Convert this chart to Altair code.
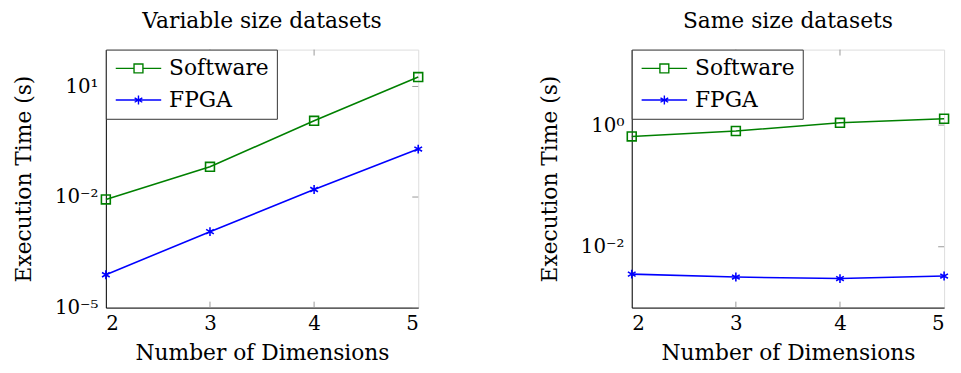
import altair as alt
import pandas as pd

dims = [2, 3, 4, 5]
series_names = ["Software", "FPGA"]

# Variable size datasets
var_software = [0.0086, 0.066, 1.17, 18.0]
var_fpga = [7.8e-5, 1.15e-3, 0.016, 0.20]

# Same size datasets
same_software = [0.65, 0.80, 1.09, 1.27]
same_fpga = [0.00355, 0.00318, 0.0030, 0.0033]

titles = ["Variable size datasets", "Same size datasets"]
y_domains = [[1e-5, 1e2], [1e-3, 17.4]]
y_ticks = [[1e-5, 1e-2, 1e1], [1e-2, 1.0]]

FONT = "DejaVu Serif"
COLORS = {"Software": "#008000", "FPGA": "#0000ff"}

MARKS = {"Software": "M-1,-1H1V1H-1Z",
         "FPGA": "M0,-1V1M-0.866,-0.5L0.866,0.5M-0.866,0.5L0.866,-0.5"}
LEG = {"Software": "M-2.3,0H-0.45M0.45,0H2.3M-0.45,-0.45H0.45V0.45H-0.45Z",
       "FPGA": "M-2.3,0H2.3M0,-0.45V0.45M-0.39,-0.225L0.39,0.225M-0.39,0.225L0.39,-0.225"}

W, H = 316, 261

label_expr = ("datum.value == 10 ? '10¹' : datum.value == 0.01 ? '10⁻²' : "
              "datum.value == 0.00001 ? '10⁻⁵' : datum.value == 1 ? '10⁰' : datum.label")


def panel(sw, fp, title, ydom, yticks):
    rows = []
    for d, v in zip(dims, sw):
        rows.append({"dim": d, "time": v, "series": "Software"})
    for d, v in zip(dims, fp):
        rows.append({"dim": d, "time": v, "series": "FPGA"})
    df = pd.DataFrame(rows)

    xscale = alt.Scale(domain=[2, 5], nice=False, zero=False)
    yscale = alt.Scale(type="log", domain=ydom, nice=False)
    x = alt.X("dim:Q", scale=xscale,
              axis=alt.Axis(values=dims, format="d", title="Number of Dimensions",
                            grid=False, ticks=False, labelFontSize=20, titleFontSize=22,
                            labelPadding=6, titlePadding=10, domainColor="black",
                            labelColor="black", titleColor="black",
                            titleFontWeight="normal", labelFont=FONT, titleFont=FONT))
    y = alt.Y("time:Q", scale=yscale,
              axis=alt.Axis(values=yticks, labelExpr=label_expr, title="Execution Time (s)",
                            grid=False, ticks=False, labelFontSize=20, titleFontSize=22,
                            labelPadding=8, titlePadding=19, domainColor="black",
                            labelColor="black", titleColor="black",
                            titleFontWeight="normal", labelFont=FONT, titleFont=FONT))

    base = alt.Chart(df)
    layers = []

    tick_df = pd.DataFrame({"dim": [3, 4]})
    layers.append(alt.Chart(tick_df).mark_rule(color="#999", strokeWidth=1).encode(
        x=alt.X("dim:Q", scale=xscale), y=alt.value(H - 6), y2=alt.value(H)))
    layers.append(alt.Chart(tick_df).mark_rule(color="#999", strokeWidth=1).encode(
        x=alt.X("dim:Q", scale=xscale), y=alt.value(0), y2=alt.value(6)))
    ytick_df = pd.DataFrame({"time": yticks})
    layers.append(alt.Chart(ytick_df).mark_rule(color="#999", strokeWidth=1).encode(
        y=alt.Y("time:Q", scale=yscale),
        x=alt.value(W - 6), x2=alt.value(W)))

    for s in series_names:
        sub = base.transform_filter(alt.datum.series == s)
        layers.append(sub.mark_line(strokeWidth=1.6, color=COLORS[s]).encode(x=x, y=y))
        layers.append(sub.mark_point(filled=False, size=81, strokeWidth=1.6, opacity=1,
                                     color=COLORS[s], shape=MARKS[s]).encode(x=x, y=y))

    leg = alt.Legend(title=None, orient="top-left", offset=0, padding=8,
                     strokeColor="#333", fillColor="white",
                     labelFontSize=22, labelFont=FONT, labelColor="black",
                     symbolSize=400, symbolStrokeWidth=1.4,
                     symbolOffset=14, labelOffset=20, rowPadding=10)
    legend_layer = base.transform_filter("false").mark_point(
        filled=False, size=400, strokeWidth=1.4, opacity=1).encode(
        x=x, y=y,
        color=alt.Color("series:N",
                        scale=alt.Scale(domain=series_names, range=[COLORS[s] for s in series_names]),
                        legend=leg),
        shape=alt.Shape("series:N",
                        scale=alt.Scale(domain=series_names, range=[LEG[s] for s in series_names]),
                        legend=leg))
    layers.append(legend_layer)

    return alt.layer(*layers).properties(
        width=W, height=H,
        title=alt.TitleParams(title, font=FONT, fontSize=22, fontWeight="normal",
                              color="black", offset=16))


left = panel(var_software, var_fpga, titles[0], y_domains[0], y_ticks[0])
right = panel(same_software, same_fpga, titles[1], y_domains[1], y_ticks[1])

chart = alt.hconcat(left, right, spacing=112).resolve_scale(
    color="independent", shape="independent", y="independent"
).properties(
    padding={"left": 4, "top": 0, "right": 0, "bottom": 0}
).configure_view(stroke="black", strokeWidth=1).configure(background="white")

chart.save("out.html", embed_options={"renderer": "svg", "actions": False})
